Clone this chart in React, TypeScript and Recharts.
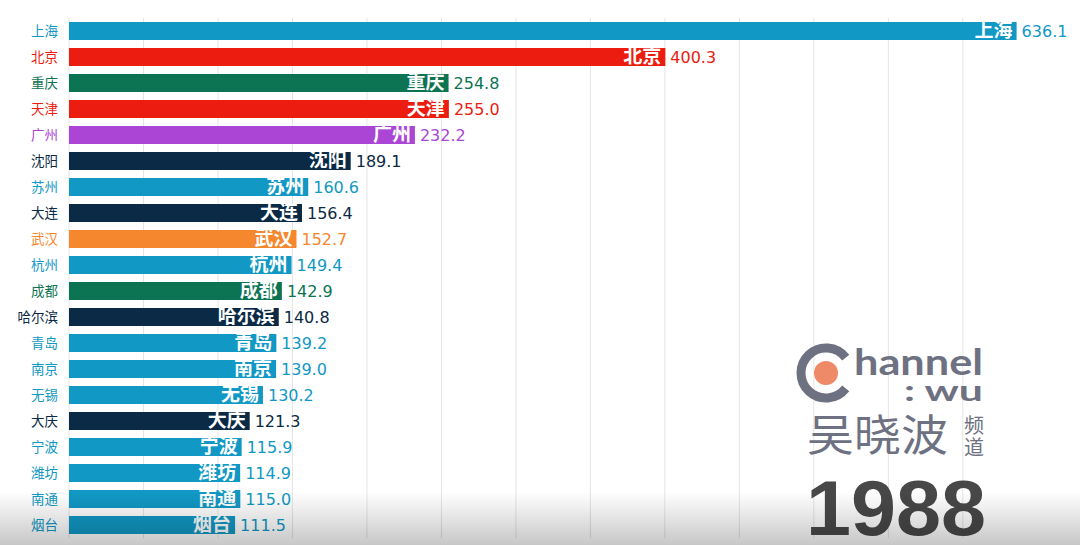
import { BarChart, Bar, XAxis, YAxis, CartesianGrid, Cell, LabelList } from "recharts";

const cities = [
  "上海", "北京", "重庆", "天津", "广州", "沈阳", "苏州", "大连", "武汉", "杭州",
  "成都", "哈尔滨", "青岛", "南京", "无锡", "大庆", "宁波", "潍坊", "南通", "烟台",
];
const gdp = [
  636.1, 400.3, 254.8, 255.0, 232.2, 189.1, 160.6, 156.4, 152.7, 149.4,
  142.9, 140.8, 139.2, 139.0, 130.2, 121.3, 115.9, 114.9, 115.0, 111.5,
];
const groups = [
  "blue", "red", "green", "red", "purple", "navy", "blue", "navy", "orange", "blue",
  "green", "navy", "blue", "blue", "blue", "navy", "blue", "blue", "blue", "blue",
];
const gridTicks = [0, 50, 100, 150, 200, 250, 300, 350, 400, 450, 500, 550, 600];
const year = "1988";

const palette: Record<string, string> = {
  blue: "#1198c4",
  red: "#ec1c10",
  green: "#0c7452",
  purple: "#aa45d6",
  navy: "#0b2a46",
  orange: "#f5872e",
};

const data = cities.map((city, i) => ({ city, gdp: gdp[i], color: palette[groups[i]] }));
const colorOf = (city: string) => data.find((d) => d.city === city)?.color ?? "#333";

const CJK = "'Noto Sans CJK SC', 'Noto Sans', sans-serif";

function CityTick(props: any) {
  const { x, y, payload } = props;
  return (
    <text x={x - 3} y={y} dy="0.35em" textAnchor="end" fontSize={13.5} fontFamily={CJK} fill={colorOf(payload.value)}>
      {payload.value}
    </text>
  );
}

function NameLabel(props: any) {
  const { x, y, width, height, value } = props;
  return (
    <text x={x + width - 4} y={y + height / 2 - 1} dy="0.35em" textAnchor="end" fill="#fff" fontSize={19} fontWeight={700} fontFamily={CJK}>
      {value}
    </text>
  );
}

function ValueLabel(props: any) {
  const { x, y, width, height, value, index } = props;
  return (
    <text x={x + width + 5} y={y + height / 2} dy="0.36em" fill={data[index]?.color} fontSize={16} fontFamily="'DejaVu Sans', sans-serif">
      {Number(value).toFixed(1)}
    </text>
  );
}

// channel logo + year, painted over the chart like the video watermark
function Watermark() {
  const cx = 826, cy = 373, r = 25;
  const a0 = (-38 * Math.PI) / 180, a1 = (38 * Math.PI) / 180;
  const arc = `M ${cx + r * Math.cos(a0)} ${cy + r * Math.sin(a0)} A ${r} ${r} 0 1 0 ${cx + r * Math.cos(a1)} ${cy + r * Math.sin(a1)}`;
  const grey = "#6e7182";
  return (
    <svg width={1080} height={545} style={{ position: "absolute", left: 0, top: 0, pointerEvents: "none" }}>
      <defs>
        <linearGradient id="fade" x1="0" y1="0" x2="0" y2="1">
          <stop offset="0" stopColor="#000" stopOpacity={0} />
          <stop offset="1" stopColor="#000" stopOpacity={0.22} />
        </linearGradient>
      </defs>
      <path d={arc} fill="none" stroke={grey} strokeWidth={9} />
      <circle cx={cx} cy={cy} r={12} fill="#ef8a68" />
      <text x={854} y={375} textLength={129} lengthAdjust="spacingAndGlyphs" fontSize={37} fontWeight={700} fontFamily="Lato, 'DejaVu Sans', sans-serif" fill={grey}>
        hannel
      </text>
      <text x={904} y={401} textLength={79} lengthAdjust="spacingAndGlyphs" fontSize={28} fontWeight={700} fontFamily="Lato, 'DejaVu Sans', sans-serif" fill={grey}>
        : wu
      </text>
      <text x={807} y={451} textLength={141} lengthAdjust="spacingAndGlyphs" fontSize={43} fontFamily={CJK} fill={grey}>
        吴晓波
      </text>
      <text x={964} y={433} fontSize={20} fontFamily={CJK} fill={grey}>频</text>
      <text x={964} y={455} fontSize={20} fontFamily={CJK} fill={grey}>道</text>
      <text x={806} y={535} textLength={180} lengthAdjust="spacingAndGlyphs" fontSize={78} fontWeight={700} fontFamily="'Liberation Sans', sans-serif" fill="#484848">
        {year}
      </text>
      <rect x={0} y={492} width={1080} height={53} fill="url(#fade)" />
    </svg>
  );
}

export default function App() {
  return (
    <div style={{ position: "absolute", left: 0, top: 0, width: 1080, height: 545, background: "#fff", overflow: "hidden" }}>
      <BarChart
        width={1090}
        height={545}
        data={data}
        layout="vertical"
        margin={{ top: 18, right: 8, bottom: 7, left: 0 }}
        barCategoryGap={8}
      >
        <CartesianGrid horizontal={false} stroke="#e4e4e4" />
        <XAxis type="number" domain={[0, 680]} ticks={gridTicks} hide />
        <YAxis type="category" dataKey="city" width={69} axisLine={false} tickLine={false} tick={<CityTick />} interval={0} />
        <Bar dataKey="gdp" barSize={18} isAnimationActive={false}>
          {data.map((d) => (
            <Cell key={d.city} fill={d.color} />
          ))}
          <LabelList dataKey="city" content={<NameLabel />} />
          <LabelList dataKey="gdp" content={<ValueLabel />} />
        </Bar>
      </BarChart>
      <Watermark />
    </div>
  );
}
